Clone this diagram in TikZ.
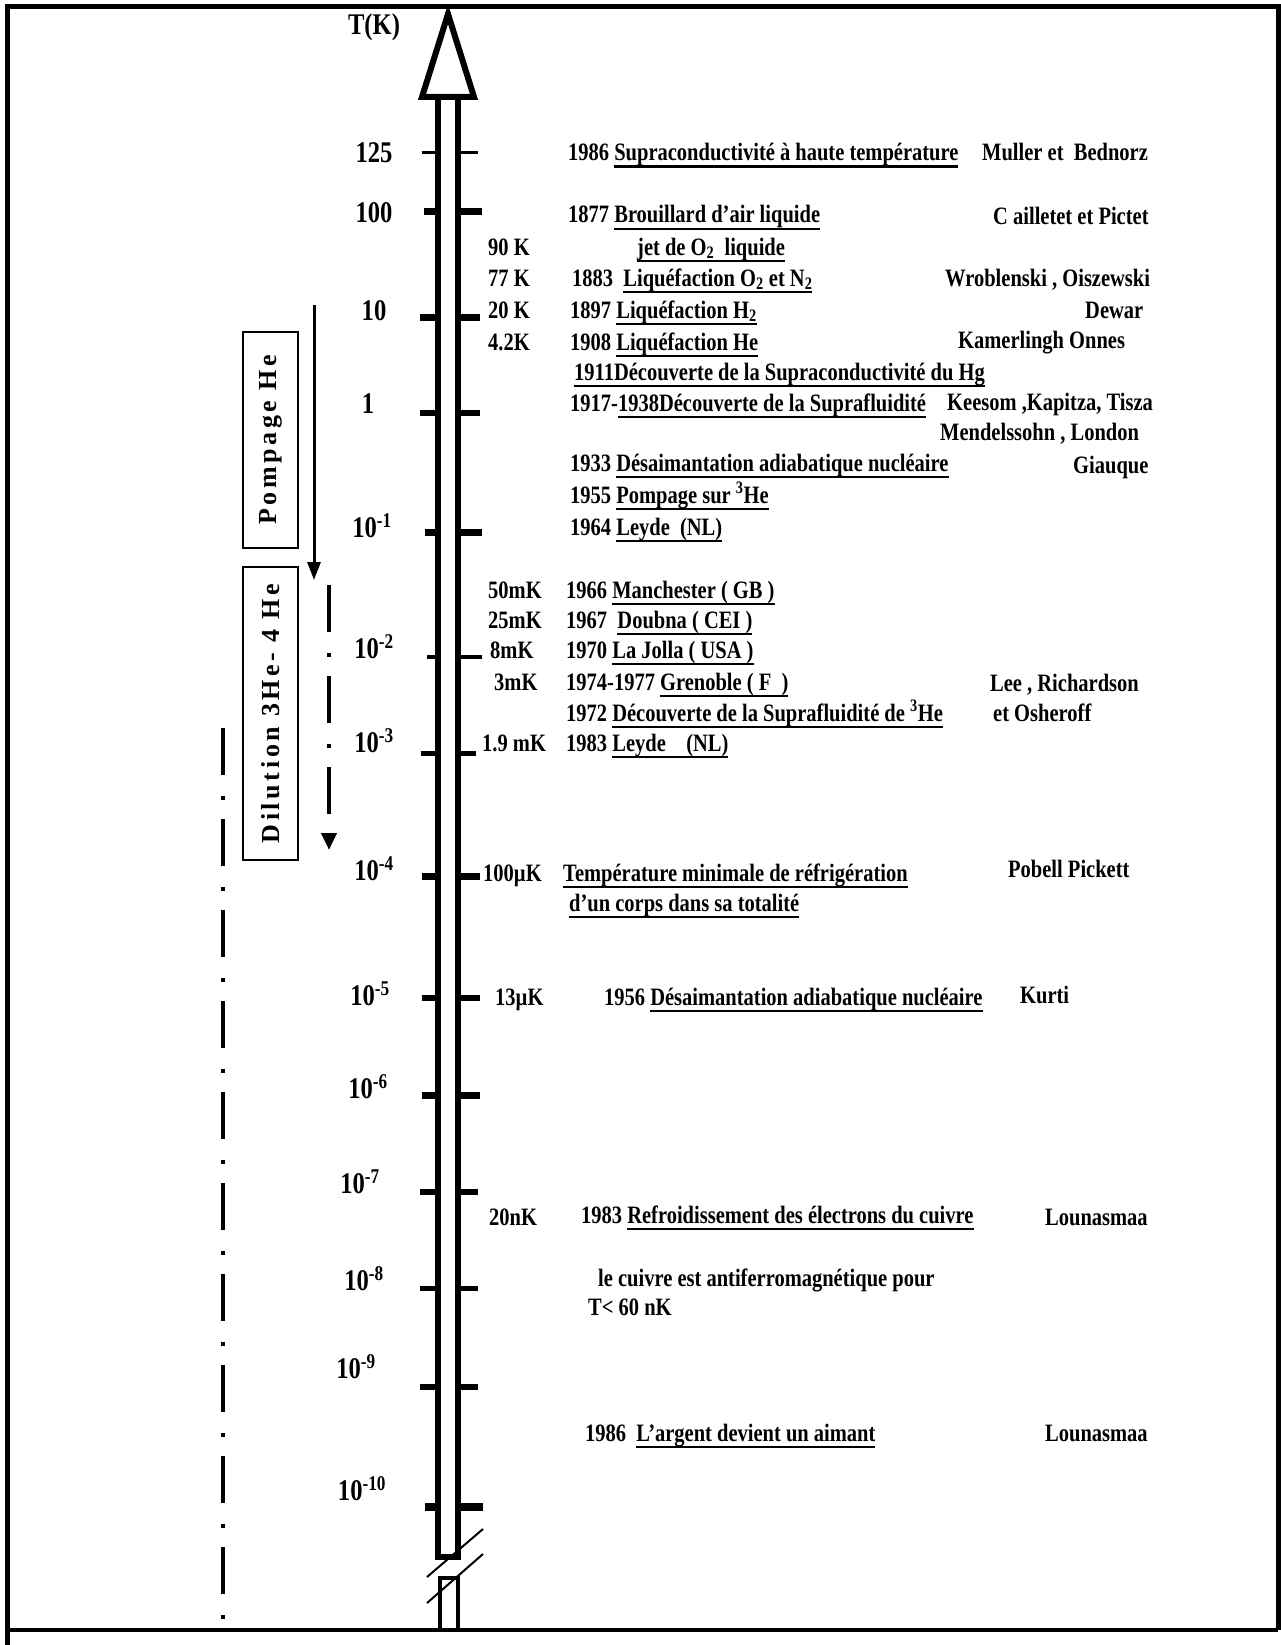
\documentclass[tikz,border=0pt]{standalone}
\usepackage{fontspec}
\usetikzlibrary{arrows.meta}
\setmainfont{Liberation Serif}
\newfontfamily\condfont[FakeStretch=0.82]{Liberation Serif}
\newfontfamily\spacedfont[LetterSpace=14]{Liberation Serif}
\newcommand{\undl}[1]{\setbox0=\hbox{#1}\leavevmode\rlap{\rule[-7pt]{\wd0}{2.5pt}}\box0}

\tikzset{
  tickmark/.style={line width=7pt},
  evt/.style={font=\condfont\bfseries\fontsize{25}{30}\selectfont, anchor=west, inner sep=0pt, text height=16pt, text depth=0pt},
  scalelbl/.style={font=\condfont\bfseries\fontsize{30}{36}\selectfont, inner sep=0pt, text height=20pt, text depth=0pt},
  boxlbl/.style={draw, line width=2.5pt, rotate=90, inner sep=0pt, font=\spacedfont\bfseries\fontsize{26}{30}\selectfont, minimum height=55pt},
  dashdot/.style={line width=4.5pt, dash pattern=on 47pt off 21pt on 4pt off 19pt}
}

\begin{document}
\begin{tikzpicture}[x=1pt, y=-1pt]
\def\xl{438};
\def\xr{458};
\def\ybot{1557};

\useasboundingbox (0,0) rectangle (1281,1645);

% frame
\draw[line width=5pt] (7,1645) -- (7,7) -- (1278,7) -- (1278,1630);
\draw[line width=4pt] (7,1630) -- (1278,1630);

% temperature axis
\draw[line width=6pt] (448,14) -- (474,97) -- (422,97) -- cycle;
\draw[line width=6pt] (\xl,100) -- (\xl,\ybot) -- (\xr,\ybot) -- (\xr,100);
\draw[line width=4.5pt] (440,1630) -- (440,1578) -- (\xr,1578) -- (\xr,1630);
\draw[line width=2pt] (427,1577) -- (483,1529);
\draw[line width=2pt] (427,1603) -- (483,1554);

\draw[tickmark, line width=3pt] (422,153) -- (\xl,153) (\xr,153) -- (478,153);
\draw[tickmark] (424,212) -- (\xl,212) (\xr,212) -- (482,212);
\draw[tickmark] (420,317) -- (\xl,317) (\xr,317) -- (480,317);
\draw[tickmark, line width=6pt] (420,413) -- (\xl,413) (\xr,413) -- (480,413);
\draw[tickmark] (425,532) -- (\xl,532) (\xr,532) -- (482,532);
\draw[tickmark, line width=4pt] (427,657) -- (\xl,657) (\xr,657) -- (482,657);
\draw[tickmark, line width=5pt] (421,753) -- (\xl,753) (\xr,753) -- (476,753);
\draw[tickmark] (422,876) -- (\xl,876) (\xr,876) -- (480,876);
\draw[tickmark, line width=6pt] (422,998) -- (\xl,998) (\xr,998) -- (480,998);
\draw[tickmark] (422,1095) -- (\xl,1095) (\xr,1095) -- (480,1095);
\draw[tickmark, line width=6pt] (420,1192) -- (\xl,1192) (\xr,1192) -- (478,1192);
\draw[tickmark, line width=5pt] (420,1288) -- (\xl,1288) (\xr,1288) -- (478,1288);
\draw[tickmark, line width=6pt] (420,1387) -- (\xl,1387) (\xr,1387) -- (478,1387);
\draw[tickmark, line width=8pt] (425,1507) -- (\xl,1507) (\xr,1507) -- (483,1507);

% scale labels
\node[scalelbl] (unit) at (374,25) {T(K)};
\node[scalelbl] (s125) at (374,153) {125};
\node[scalelbl] (s100) at (374,213) {100};
\node[scalelbl] (s10) at (374,310) {10};
\node[scalelbl] (s1) at (368,403) {1};
\node[scalelbl] (sm1) at (372,527) {10\textsuperscript{-1}};
\node[scalelbl] (sm2) at (374,648) {10\textsuperscript{-2}};
\node[scalelbl] (sm3) at (374,742) {10\textsuperscript{-3}};
\node[scalelbl] (sm4) at (374,870) {10\textsuperscript{-4}};
\node[scalelbl] (sm5) at (370,995) {10\textsuperscript{-5}};
\node[scalelbl] (sm6) at (368,1088) {10\textsuperscript{-6}};
\node[scalelbl] (sm7) at (360,1183) {10\textsuperscript{-7}};
\node[scalelbl] (sm8) at (364,1280) {10\textsuperscript{-8}};
\node[scalelbl] (sm9) at (356,1368) {10\textsuperscript{-9}};
\node[scalelbl] (sm10) at (362,1490) {10\textsuperscript{-10}};

% regimes
\node[boxlbl, minimum width=216pt] (pompage) at (270.5,440) {Pompage He};
\node[boxlbl, minimum width=293pt] (dilution) at (270.5,713.5) {Dilution 3He- 4 He};
\coordinate (pstart) at (314,305);
\coordinate (pend) at (314,580);
\draw[line width=3pt, -{Triangle[width=13pt, length=18pt]}] (pstart) -- (pend);
\coordinate (dstart) at (329,585);
\coordinate (dend) at (329,850);
\draw[dashdot, -{Triangle[width=15pt, length=17pt]}] (dstart) -- (dend);
\coordinate (lstart) at (223,728);
\coordinate (lend) at (223,1628);
\draw[dashdot, line width=4pt] (lstart) -- (lend);

% temperatures reached
\node[evt] (t90) at (488,247) {90 K};
\node[evt] (t77) at (488,278) {77 K};
\node[evt] (t20) at (488,310) {20 K};
\node[evt] (t4) at (488,342) {4.2K};
\node[evt] (t50m) at (488,590) {50mK};
\node[evt] (t25m) at (488,620) {25mK};
\node[evt] (t8m) at (490,650) {8mK};
\node[evt] (t3m) at (494,682) {3mK};
\node[evt] (t19m) at (482,743) {1.9 mK};
\node[evt] (t100u) at (483,873) {100µK};
\node[evt] (t13u) at (495,997) {13µK};
\node[evt] (t20n) at (489,1217) {20nK};

% events
\node[evt] (e1986) at (568,153) {1986 \undl{Supraconductivité à haute température}};
\node[evt] (e1877) at (568,215) {1877 \undl{Brouillard d’air liquide}};
\node[evt] (ejet) at (637,247) {\undl{jet de O\textsubscript{2}~ liquide}};
\node[evt] (e1883) at (572,278) {1883~ \undl{Liquéfaction O\textsubscript{2} et N\textsubscript{2}}};
\node[evt] (e1897) at (570,310) {1897 \undl{Liquéfaction H\textsubscript{2}}};
\node[evt] (e1908) at (570,342) {1908 \undl{Liquéfaction He}};
\node[evt] (e1911) at (574,372) {\undl{1911Découverte de la Supraconductivité du Hg}};
\node[evt] (e1917) at (570,403) {1917-\undl{1938Découverte de la Suprafluidité}};
\node[evt] (e1933) at (570,463) {1933 \undl{Désaimantation adiabatique nucléaire}};
\node[evt] (e1955) at (570,495) {1955 \undl{Pompage sur \textsuperscript{3}He}};
\node[evt] (e1964) at (570,527) {1964 \undl{Leyde~ (NL)}};
\node[evt] (e1966) at (566,590) {1966 \undl{Manchester ( GB )}};
\node[evt] (e1967) at (566,620) {1967~ \undl{Doubna ( CEI~)}};
\node[evt] (e1970) at (566,650) {1970 \undl{La Jolla ( USA )}};
\node[evt] (e1974) at (566,682) {1974-1977 \undl{Grenoble ( F~ )}};
\node[evt] (e1972) at (566,713) {1972 \undl{Découverte de la Suprafluidité de \textsuperscript{3}He}};
\node[evt] (e1983a) at (566,743) {1983 \undl{Leyde~~~ (NL)}};
\node[evt] (emin) at (563,873) {\undl{Température minimale de réfrigération}};
\node[evt] (emin2) at (569,903) {\undl{d’un corps dans sa totalité}};
\node[evt] (e1956) at (604,997) {1956 \undl{Désaimantation adiabatique nucléaire}};
\node[evt] (e1983b) at (581,1215) {1983 \undl{Refroidissement des électrons du cuivre}};
\node[evt] (ecu) at (598,1278) {le cuivre est antiferromagnétique pour};
\node[evt] (ecu2) at (588,1307) {T< 60 nK};
\node[evt] (e1986b) at (585,1433) {1986~ \undl{L’argent devient un aimant}};

% names
\node[evt] (n1) at (982,153) {Muller et~ Bednorz};
\node[evt] (n2) at (993,217) {C ailletet et Pictet};
\node[evt] (n3) at (945,278) {Wroblenski , Oiszewski};
\node[evt] (n4) at (1085,310) {Dewar};
\node[evt] (n5) at (958,340) {Kamerlingh Onnes};
\node[evt] (n6) at (947,402) {Keesom ,Kapitza, Tisza};
\node[evt] (n7) at (940,432) {Mendelssohn , London};
\node[evt] (n8) at (1073,465) {Giauque};
\node[evt] (n9) at (990,683) {Lee , Richardson};
\node[evt] (n10) at (993,713) {et Osheroff};
\node[evt] (n11) at (1008,869) {Pobell Pickett};
\node[evt] (n12) at (1020,995) {Kurti};
\node[evt] (n13) at (1045,1217) {Lounasmaa};
\node[evt] (n14) at (1045,1433) {Lounasmaa};

\end{tikzpicture}
\end{document}
